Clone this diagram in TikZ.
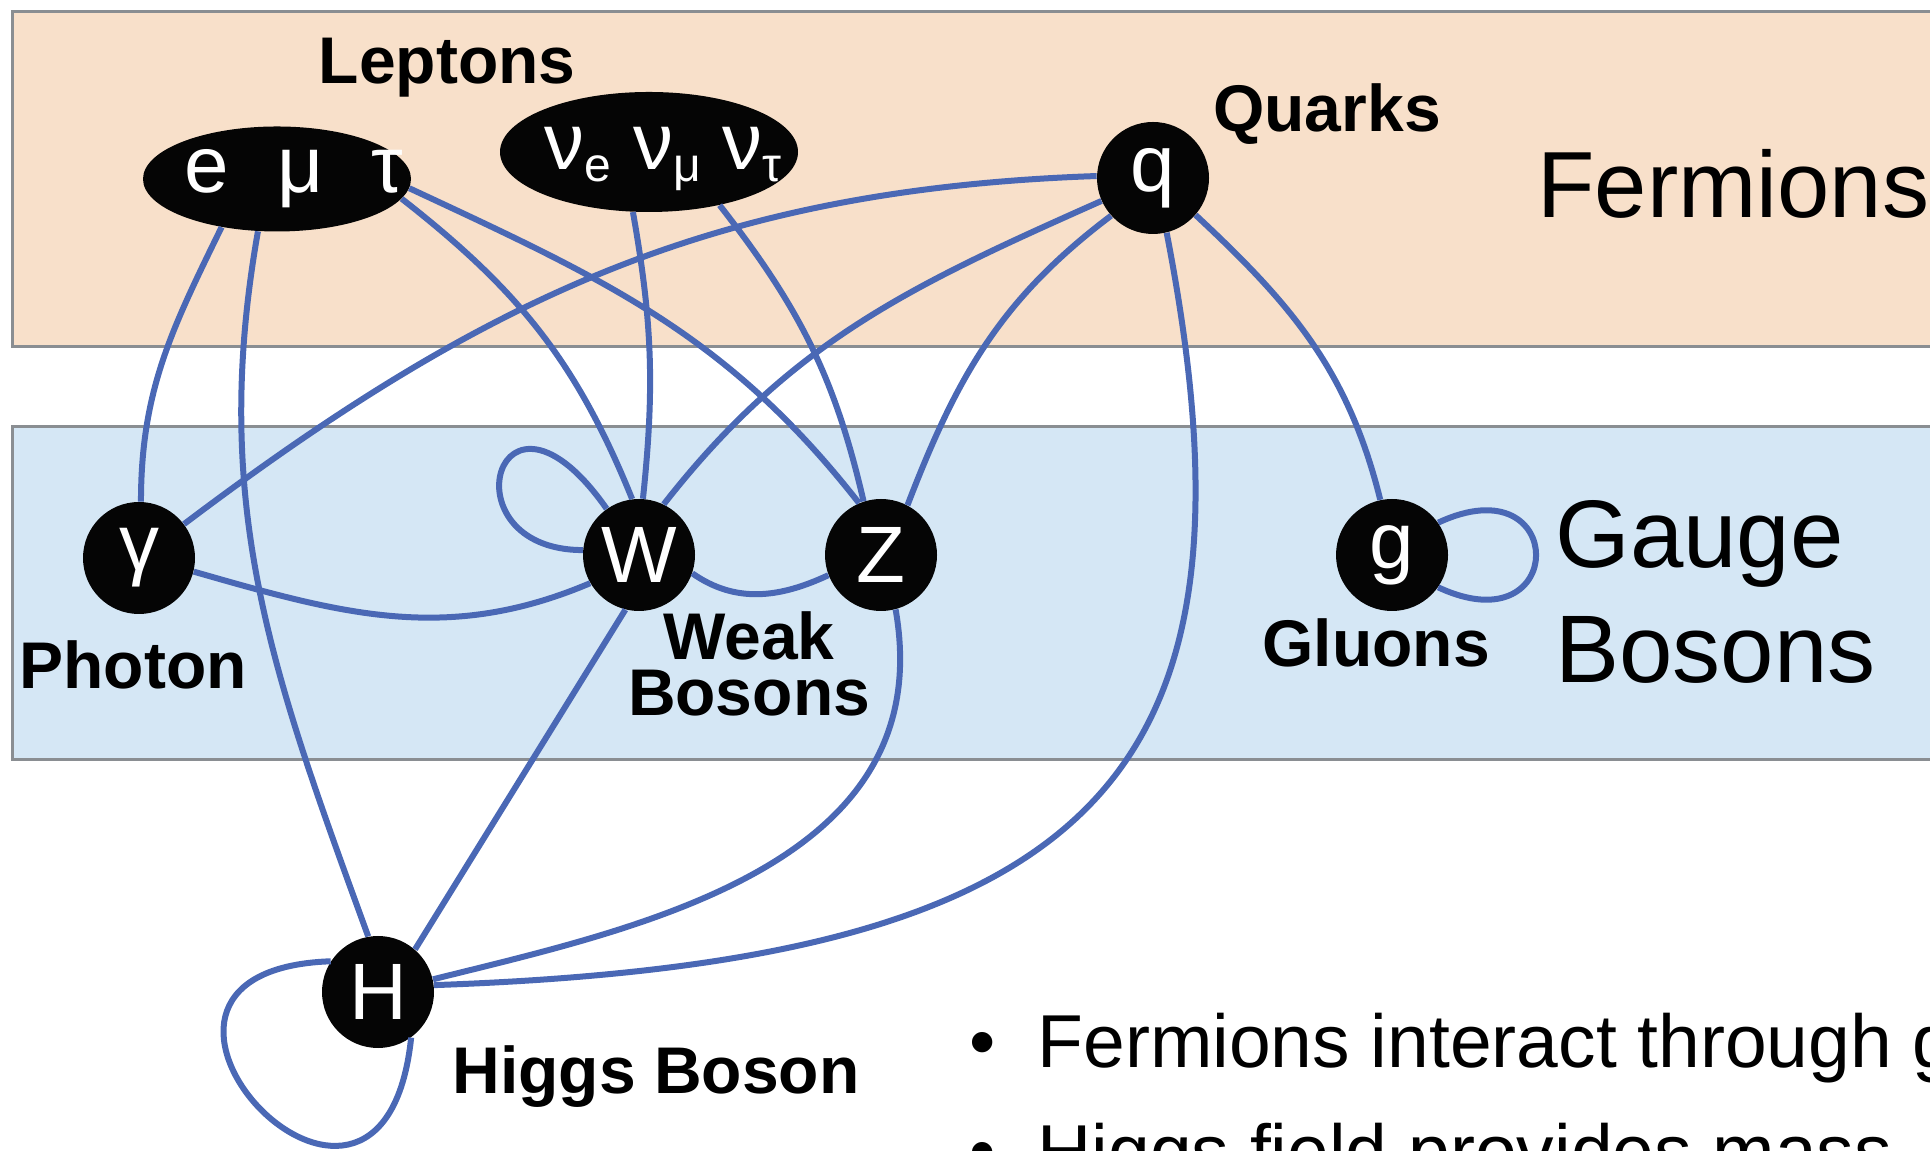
\documentclass[tikz,border=0pt]{standalone}
\usepackage{fontspec}
\setmainfont{Liberation Sans}
\usepackage{tikz}
\usetikzlibrary{shapes.geometric}
\definecolor{PBInk}{HTML}{050505}
\definecolor{PBLine}{HTML}{4A68B5}
\definecolor{PBFrame}{HTML}{8A8E92}
\definecolor{PBFermion}{HTML}{F8E0CA}
\definecolor{PBBoson}{HTML}{D5E7F5}
\newcommand{\nusub}[1]{ν\raisebox{-6pt}{\fontsize{24}{24}\selectfont #1}}

\begin{document}
\begin{tikzpicture}[x=0.5pt,y=0.5pt,
    band/.style={draw=PBFrame,line width=1.5pt},
    particle/.style={circle,fill=PBInk,text=white,inner sep=0pt,minimum size=56pt,font=\fontsize{40}{40}\selectfont},
    family/.style={ellipse,fill=PBInk,text=white,inner sep=0pt,font=\fontsize{40}{40}\selectfont},
    tag/.style={inner sep=0pt,font=\fontsize{33}{33}\selectfont\bfseries},
    link/.style={PBLine,line width=3pt}]
    \useasboundingbox (0,0) rectangle (1930,1150);
    \clip (0,0) rectangle (1930,1150);
    \draw[band,fill=PBFermion] (12,803) rectangle (1960,1138);
    \draw[band,fill=PBBoson] (12,390) rectangle (1960,723);

    \node[family,minimum width=134pt,minimum height=52.5pt] (lep) at (277,971) {\makebox[0pt]{\hspace*{17pt}e\hspace{24pt}μ\hspace{24pt}τ}};
    \node[family,minimum width=149pt,minimum height=60pt,text depth=4pt] (nu) at (649,998) {\makebox[0pt]{\hspace*{14pt}\nusub{e}\hspace{11pt}\nusub{μ}\hspace{11pt}\nusub{τ}}};
    \foreach \n/\t/\x/\y in {gam/γ/139/592,W/W/639/595,Z/Z/881/595,g/g/1392/595,H/H/378/158,q/q/1153/972} {
      \node[particle] (\n) at (\x,\y) {\t};
    }

    \node[tag,anchor=base] (leptons) at (447,1066) {Leptons};
    \node[tag,anchor=base] (quarks) at (1327,1018) {Quarks};
    \node[tag,anchor=base] (photon) at (133,461) {Photon};
    \node[tag,anchor=north,align=center,font=\fontsize{33}{28}\selectfont\bfseries] (weak) at (749,539) {Weak\\Bosons};
    \node[tag,anchor=base] (gluons) at (1376,483) {Gluons};
    \node[tag,anchor=base west] (higgs) at (452,57) {Higgs Boson};
    \node[anchor=base west,inner sep=0pt,font=\fontsize{47}{47}\selectfont] (fermions) at (1537,932) {Fermions};
    \node[anchor=north west,inner sep=0pt,align=left,font=\fontsize{48}{57.5}\selectfont] (gauge) at (1555,650) {Gauge\\Bosons};
    \foreach \n/\y/\t in {point1/83/Fermions interact through g,point2/-27/Higgs field provides mass} {
      \node[anchor=base west,inner sep=0pt,font=\fontsize{37.5}{37.5}\selectfont] (\n) at (969,\y) {\textbullet\hspace{21pt}\t};
    }

    \draw[link] (lep.-139) to[out=-116,in=90] (gam.88);
    \draw[link] (lep.-110) to[out=-100,in=110] (H.100);
    \draw[link] (lep.-9) to[out=-38,in=112] (W.97);
    \draw[link] (lep.-4) to[out=-25,in=128] (Z.113);
    \draw[link] (nu.-105) to[out=-80,in=84] (W.86);
    \draw[link] (nu.-37) to[out=-52,in=103] (Z.108);
    \draw[link] (q.178) to[out=182,in=37] (gam.37);
    \draw[link] (q.204) to[out=-156,in=52] (W.64);
    \draw[link] (q.222) to[out=-143,in=69] (Z.62);
    \draw[link] (q.-41) to[out=-43,in=104] (g.102);
    \draw[link] (q.-76) to[out=-79,in=2,out distance=278pt,in distance=333pt] (H.7);
    \draw[link] (gam.-14) to[out=-16,in=-157] (W.210);
    \draw[link] (W.-19) to[out=-35,in=-155] (Z.201);
    \draw[link] (W.125) to[out=125,in=180,out distance=95pt,in distance=70pt] (W.175);
    \draw[link] (W.-104) -- (H.49);
    \draw[link] (Z.-75) to[out=-80,in=14,out distance=130pt,in distance=106pt] (H.13);
    \draw[link] (H.147) to[out=182,in=-96,out distance=135pt,in distance=140pt] (H.-54);
    \draw[link] (g.35) to[out=25,in=-25,distance=72pt] (g.-35);
  \end{tikzpicture}
\end{document}
